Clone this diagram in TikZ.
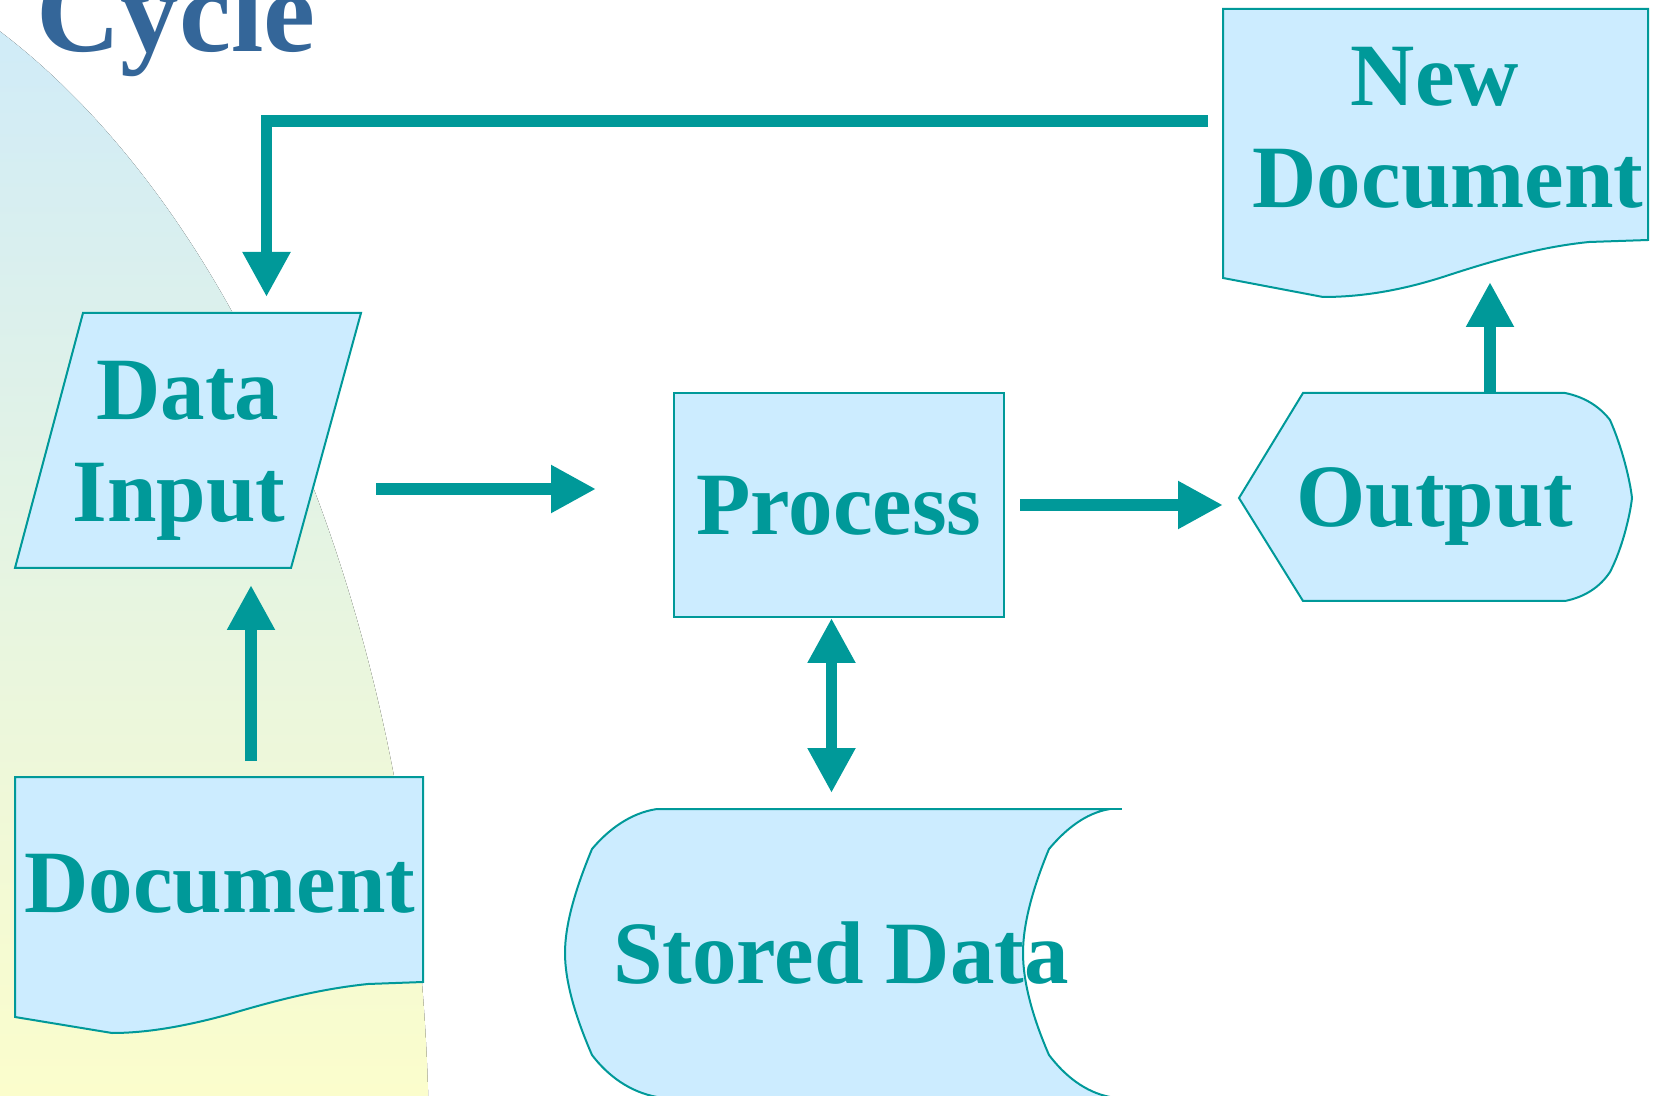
\documentclass[tikz,border=0pt]{standalone}
\usepackage{fontspec}
\setmainfont{Liberation Serif}
\usetikzlibrary{arrows.meta}
\definecolor{tealc}{RGB}{0,153,153}
\definecolor{boxfill}{RGB}{204,236,255}
\definecolor{titleblue}{RGB}{52,102,153}
\definecolor{bgtop}{RGB}{207,235,249}
\definecolor{bgbot}{RGB}{251,253,204}
\tikzset{bigtip/.tip={Triangle[length=22.5pt,width=22.5pt]}}
\begin{document}
\begin{tikzpicture}[x=0.5pt,y=-0.5pt,
  shapebox/.style={draw=tealc, fill=boxfill, line width=1pt, line join=miter},
  conn/.style={draw=tealc, line width=5.75pt, line join=miter, -bigtip},
  conn2/.style={draw=tealc, line width=5.75pt, bigtip-bigtip},
  lbl/.style={text=tealc, font=\fontsize{44.5}{51}\selectfont\bfseries, anchor=base, inner sep=0pt},
  ttl/.style={text=titleblue, font=\fontsize{58.5}{66}\selectfont\bfseries, anchor=base west, inner sep=0pt},
]
\useasboundingbox (0,0) rectangle (1656,1096);
\clip (0,0) rectangle (1656,1096);

% background
\begin{scope}
  \clip (-295,1155) ellipse [x radius=362pt, y radius=615pt];
  \fill[top color=bgtop, bottom color=bgbot] (0,0) rectangle (1656,1096);
\end{scope}

% title
\node[ttl] (title) at (36,52) {Cycle};

% shapes
\path[shapebox] (83,313) -- (361,313) -- (291,568) -- (15,568) -- cycle;
\path[shapebox] (674,393) rectangle (1004,617);
\path[shapebox] (1239,498) -- (1303,393) -- (1565,393)
  .. controls (1585,397) and (1600,407) .. (1610,420)
  .. controls (1622,447) and (1630,480) .. (1632,498)
  .. controls (1630,516) and (1622,549) .. (1610,572)
  .. controls (1600,587) and (1585,597) .. (1565,601)
  -- (1303,601) -- cycle;
\path[shapebox] (1223,9) -- (1648,9) -- (1648,240) -- (1589,242)
  .. controls (1550,246) and (1510,255) .. (1446,276)
  .. controls (1400,291) and (1360,297) .. (1323,297)
  -- (1223,278) -- cycle;
\path[shapebox] (15,777) -- (423,777) -- (423,982) -- (368,984)
  .. controls (330,988) and (290,996) .. (230,1014)
  .. controls (190,1025) and (150,1033) .. (112,1033)
  -- (15,1017) -- cycle;
\path[shapebox] (657,809) -- (1110,809)
  .. controls (1085,813) and (1065,830) .. (1049,849)
  .. controls (1032,890) and (1023,925) .. (1023,953)
  .. controls (1023,981) and (1032,1016) .. (1049,1055)
  .. controls (1065,1076) and (1085,1092) .. (1110,1097)
  -- (657,1097)
  .. controls (630,1092) and (608,1076) .. (592,1055)
  .. controls (575,1016) and (565,981) .. (565,953)
  .. controls (565,925) and (575,890) .. (592,849)
  .. controls (608,830) and (630,813) .. (657,809) -- cycle;
\draw[draw=tealc, line width=1pt] (1100,809) -- (1122,809);

% labels
\node[lbl] (diA) at (188,420) {Data};
\node[lbl] (diB) at (179,522) {Input};
\node[lbl] (proc) at (839,535) {Process};
\node[lbl] (out) at (1435,527) {Output};
\node[lbl] (ndA) at (1435,106) {New};
\node[lbl] (ndB) at (1448,208) {Document};
\node[lbl] (doc) at (220,912) {Document};
\node[lbl] (sd) at (841,983) {Stored Data};

% connector end points
\coordinate (c1s) at (1208,121);
\coordinate (c1m) at (266.5,121);
\coordinate (c1e) at (266.5,297);
\coordinate (c2s) at (251,761);
\coordinate (c2e) at (251,585);
\coordinate (c3s) at (376,489);
\coordinate (c3e) at (596,489);
\coordinate (c4s) at (1020,505);
\coordinate (c4e) at (1223,505);
\coordinate (c5s) at (1490,393);
\coordinate (c5e) at (1490,282);
\coordinate (c6s) at (831.5,618);
\coordinate (c6e) at (831.5,793);

\draw[conn] (c1s) -- (c1m) -- (c1e);
\draw[conn] (c2s) -- (c2e);
\draw[conn] (c3s) -- (c3e);
\draw[conn] (c4s) -- (c4e);
\draw[conn] (c5s) -- (c5e);
\draw[conn2] (c6s) -- (c6e);
\end{tikzpicture}
\end{document}
